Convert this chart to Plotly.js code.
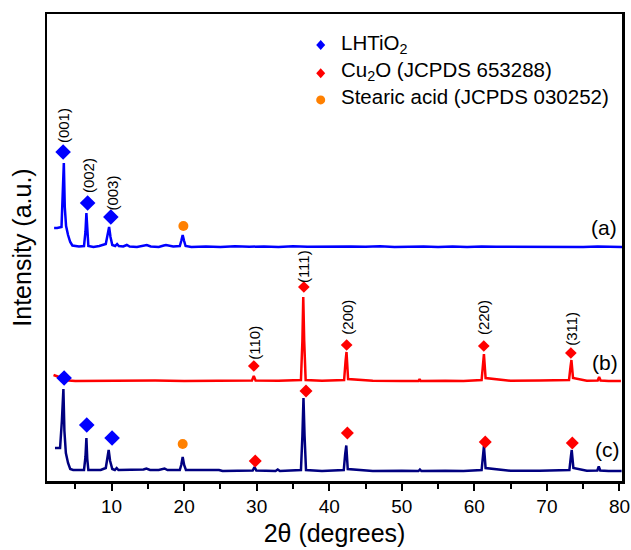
<!DOCTYPE html>
<html>
<head>
<meta charset="utf-8">
<script src="https://cdn.plot.ly/plotly-3.0.1.min.js"></script>
<style>html,body{margin:0;padding:0;background:#fff;}#chart{width:631px;height:550px;}</style>
</head>
<body>
<div id="chart"></div>
<script>
// ---- Data (2θ in degrees, intensity in arbitrary units above each pattern's baseline) ----
const thetaA = [2.08,2.5,3.1,3.25,3.42,3.55,3.73,4.0,4.3,4.6,5.0,5.5,6.2,6.4,6.53,6.65,6.8,7.5,8.3,9.2,9.45,9.66,9.85,10.1,10.5,10.76,11.0,11.6,12.1,12.5,13.5,14.3,14.85,15.4,16.5,17.2,17.5,18.5,19.4,19.6,19.8,20.0,20.2,21.0,23,25,27,29,31,33,35,37,39,41,43,45,47,49,51,53,55,57,59,61,63,65,67,69,71,73,75,77,79,80.4];
const intA   = [19,19,20,50,84,40,21,12,5,1.5,1,0.5,1,15,34,12,1,0,1,3,12,20,10,2,1,3,1,0.5,2,0.5,0,1,2,0.5,0,1.5,2,0.5,1,6,12,6,1,0,0.5,0,0.7,0.2,0.6,0,0.8,0.3,0.5,0,0.6,0.2,0.7,0,0.4,0.6,0.1,0.5,0,0.6,0.3,0.2,0.6,0,0.4,0.5,0.1,0.4,0.2,0];

const thetaB = [2.0,2.5,3.2,4.1,5,8,12,16,20,24,27,29.35,29.6,29.85,33,36.1,36.3,36.42,36.55,36.75,39,42.05,42.25,42.38,42.6,46,50,52.3,52.45,52.6,56,58.5,61.0,61.2,61.32,61.55,65,69,73.05,73.25,73.38,73.6,75.5,77.0,77.2,77.4,78.5,80.2];
const intB   = [6,4.5,2.5,0.5,0,0.3,0,0.4,0,0.3,0,0.5,5,0.5,0.2,1,40,84,40,1,0.3,1,20,29,2,0.3,0,0,2,0,0.3,0,1,15,27,3,0.2,0.4,1,14,21,3,0.3,0.5,4,0.5,0,0];

const thetaC = [2.2,2.9,3.15,3.36,3.5,3.7,4.0,4.3,4.7,5.5,6.2,6.4,6.53,6.65,6.8,7.5,8.5,9.2,9.42,9.6,9.8,10.1,10.45,10.7,10.95,12,13.5,14.4,14.8,15.3,16.5,17.0,17.3,17.7,19.4,19.6,19.8,20.0,20.25,22,24.8,25.3,27,29.45,29.7,29.95,32.6,32.9,33.2,36.1,36.3,36.45,36.6,36.8,39,42.0,42.2,42.35,42.55,46,50,52.3,52.5,52.7,56,58.5,61.0,61.2,61.32,61.55,65,69,73.1,73.3,73.42,73.65,75.5,76.95,77.15,77.35,78.5,80.3];
const intC   = [23,23,50,82,40,18,8,2,1,1,1,14,33,12,1,1,1,3,13,21,10,2,1,3,1,1,1,1.5,2.5,1,1,1.5,2.5,1,1,6,14,6,1,1,1,0,0,0.5,4,0.5,0,1.5,0,1,35,73,35,1,0,1,17,25.5,2,0,0.3,0,1.5,0,0.3,0,1,14,25,3,0.2,0.3,1,14,21,3,0.3,0.5,4.5,0.5,0,0];

// vertical stacking offsets of the three patterns (a.u.)
const offsetA = 234, offsetB = 100, offsetC = 10;

// phase markers (2θ, height above own baseline)
const lhtA_x = [3.32,6.7,9.9],            lhtA_h = [95,44,30];
const stA_x  = [19.9],                     stA_h  = [21];
const cuB_x  = [29.6,36.5,42.4,61.3,73.3], cuB_h  = [15,94,36,35,28];
const lhtC_x = [3.46,6.58,10.07],          lhtC_h = [93,46,33];
const stC_x  = [19.8],                     stC_h  = [27];
const cuC_x  = [29.8,36.8,42.5,61.5,73.5], cuC_h  = [10,80,38,29,28];

// peak (hkl) labels
const hklText = ['(001)','(002)','(003)','(110)','(111)','(200)','(220)','(311)'];
const hklX    = [3.32,6.76,10.0,29.6,36.4,42.4,61.2,73.3];
const hklY    = [355,305,288,138,214,164,163,152];

const sampleText = ['(a)','(b)','(c)'];
const sampleX    = [77.8,78.0,78.4];
const sampleY    = [254,119,32];

const legendNames = ['LHTiO<sub>2</sub>','Cu<sub>2</sub>O (JCPDS 653288)','Stearic acid (JCPDS 030252)'];

// ---- Build ----
const add = (arr, off) => arr.map(v => v + off);
const FONT = 'Liberation Sans, Arial, sans-serif';
const BLUE = '#0000FF', RED = '#FF0000', NAVY = '#000080', ORANGE = '#FF8000';

const traces = [
  {x: thetaA, y: add(intA, offsetA), mode: 'lines', line: {color: BLUE, width: 2.5}, hoverinfo: 'skip'},
  {x: thetaB, y: add(intB, offsetB), mode: 'lines', line: {color: RED, width: 2.5}, hoverinfo: 'skip'},
  {x: thetaC, y: add(intC, offsetC), mode: 'lines', line: {color: NAVY, width: 2.5}, hoverinfo: 'skip'},
  {x: lhtA_x, y: add(lhtA_h, offsetA), mode: 'markers', marker: {symbol: 'diamond', size: 12, color: BLUE}},
  {x: stA_x,  y: add(stA_h, offsetA),  mode: 'markers', marker: {symbol: 'circle', size: 10, color: ORANGE}},
  {x: cuB_x,  y: add(cuB_h, offsetB),  mode: 'markers', marker: {symbol: 'diamond', size: 9, color: RED}},
  {x: lhtC_x, y: add(lhtC_h, offsetC), mode: 'markers', marker: {symbol: 'diamond', size: 12, color: BLUE}},
  {x: stC_x,  y: add(stC_h, offsetC),  mode: 'markers', marker: {symbol: 'circle', size: 10, color: ORANGE}},
  {x: cuC_x,  y: add(cuC_h, offsetC),  mode: 'markers', marker: {symbol: 'diamond', size: 10, color: RED}}
];

const annotations = [];
hklText.forEach((t, i) => annotations.push({x: hklX[i], y: hklY[i], text: t, textangle: -90, showarrow: false,
  font: {family: FONT, size: 15, color: '#000'}}));
sampleText.forEach((t, i) => annotations.push({x: sampleX[i], y: sampleY[i], text: t, showarrow: false,
  font: {family: FONT, size: 21, color: '#000'}}));

// legend drawn as symbols + text in paper coordinates
const legSymX = 0.476, legTextX = 0.5096;
const legY = [0.9336, 0.873, 0.816];
const legTextY = [0.9358, 0.878, 0.8244];
legendNames.forEach((t, i) => annotations.push({xref: 'paper', yref: 'paper', x: legTextX, y: legTextY[i],
  xanchor: 'left', yanchor: 'middle', text: t, showarrow: false, borderpad: 0,
  font: {family: FONT, size: 20.5, color: '#000'}}));

const diamond = 'M0,5 L4.5,0 L0,-5 L-4.5,0 Z';
const shapes = [
  {type: 'path', xref: 'paper', yref: 'paper', xsizemode: 'pixel', ysizemode: 'pixel', xanchor: legSymX, yanchor: legY[0],
   path: diamond, fillcolor: BLUE, line: {width: 0}},
  {type: 'path', xref: 'paper', yref: 'paper', xsizemode: 'pixel', ysizemode: 'pixel', xanchor: legSymX, yanchor: legY[1],
   path: diamond, fillcolor: RED, line: {width: 0}},
  {type: 'circle', xref: 'paper', yref: 'paper', xsizemode: 'pixel', ysizemode: 'pixel', xanchor: legSymX, yanchor: legY[2],
   x0: -4.5, x1: 4.5, y0: -4.5, y1: 4.5, fillcolor: ORANGE, line: {width: 0}}
];

const layout = {
  width: 631, height: 550,
  margin: {l: 47, r: 9, t: 14, b: 69},
  paper_bgcolor: '#fff', plot_bgcolor: '#fff',
  font: {family: FONT, color: '#000'},
  showlegend: false,
  xaxis: {
    range: [1.1, 80.35], showgrid: false, zeroline: false,
    showline: true, mirror: true, linecolor: '#000', linewidth: 2.5,
    ticks: 'outside', ticklen: 7, tickwidth: 2, tickcolor: '#000',
    tickvals: [10,20,30,40,50,60,70,80],
    minor: {ticks: 'outside', ticklen: 5, tickwidth: 2, tickcolor: '#000', tickvals: [5,15,25,35,45,55,65,75]},
    tickfont: {family: FONT, size: 19, color: '#000'},
    title: {text: '2θ (degrees)', font: {family: FONT, size: 25, color: '#000'}, standoff: 8}
  },
  yaxis: {
    range: [0, 467], showgrid: false, zeroline: false,
    showline: true, mirror: true, linecolor: '#000', linewidth: 2.5,
    ticks: '', showticklabels: false,
    title: {text: 'Intensity (a.u.)', font: {family: FONT, size: 25, color: '#000'}, standoff: 6}
  },
  annotations: annotations,
  shapes: shapes
};

Plotly.newPlot('chart', traces, layout, {displayModeBar: false, staticPlot: true});
</script>
</body>
</html>
